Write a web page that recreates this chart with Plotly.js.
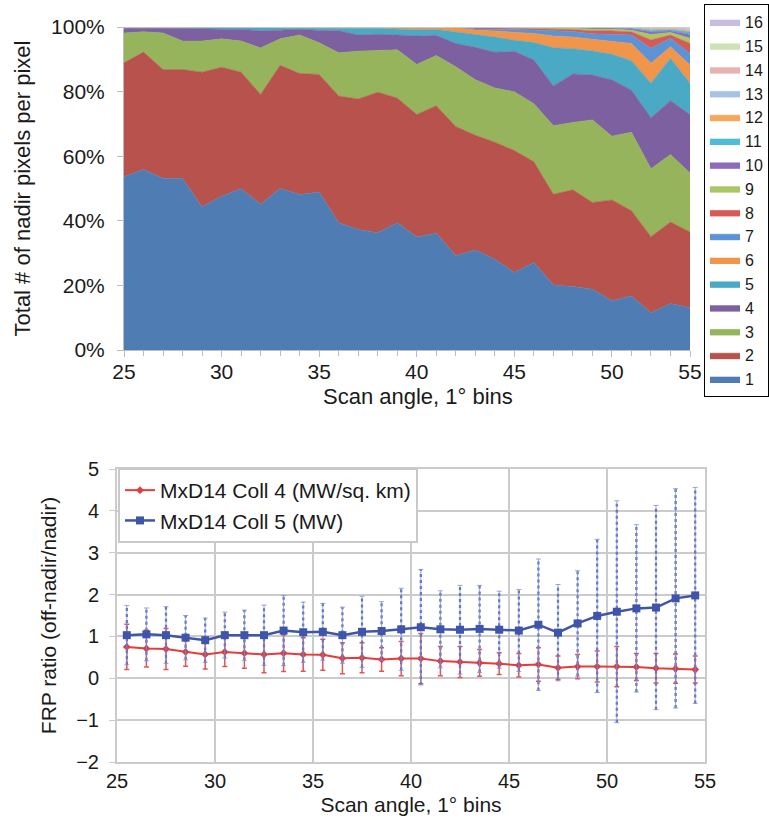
<!DOCTYPE html>
<html><head><meta charset="utf-8">
<script src="https://cdn.plot.ly/plotly-3.0.1.min.js"></script>
<style>html,body{margin:0;padding:0;background:#fff}#chart{width:769px;height:822px}</style>
</head><body><div id="chart"></div>
<script>
// ---- Top chart: share of nadir pixels per pixel, by scan angle bin ----
const scanAngleTop = [25,26,27,28,29,30,31,32,33,34,35,36,37,38,39,40,41,42,43,44,45,46,47,48,49,50,51,52,53,54];
const pct1  = [53.6,55.9,53.1,53.1,44.3,47.6,49.9,45.1,50.0,48.1,48.9,39.4,37.3,36.3,39.4,35.0,36.0,29.1,30.9,28.0,23.9,27.0,20.1,19.6,18.8,15.2,16.7,11.5,14.4,13.1];
const pct2  = [35.3,36.3,33.7,33.7,41.7,39.9,36.1,34.0,38.1,37.5,36.4,39.2,40.4,43.5,38.6,37.9,39.3,39.7,35.5,36.1,37.6,31.1,28.0,29.9,26.8,31.1,26.3,23.6,25.2,23.4];
const pct3  = [9.2,6.3,11.3,8.8,9.6,8.8,9.6,14.4,8.2,11.9,9.8,13.4,14.8,13.0,14.9,15.5,15.5,18.4,17.2,16.7,18.1,17.9,21.2,20.8,25.5,19.7,24.2,21.0,20.9,18.3];
const pct4  = [1.5,1.2,1.5,3.9,3.7,3.0,3.6,5.3,2.7,1.8,3.8,6.8,5.0,4.9,4.6,8.8,6.2,7.2,10.0,11.0,12.5,13.5,12.3,15.0,13.9,17.4,13.0,15.8,16.7,18.1];
const pct5  = [0.2,0.1,0.2,0.3,0.5,0.5,0.6,0.9,0.8,0.5,0.8,1.0,2.1,1.8,1.7,1.9,1.8,3.6,3.9,4.7,3.4,5.4,11.8,7.8,7.4,7.9,9.1,10.7,13.1,9.7];
const pct6  = [0.1,0.1,0.1,0.1,0.1,0.1,0.1,0.2,0.1,0.1,0.2,0.1,0.3,0.4,0.7,0.8,0.7,1.4,1.5,1.8,2.5,2.8,3.6,3.6,3.6,3.9,5.3,6.2,3.6,5.6];
const pct7  = [0.05,0.05,0.05,0.05,0.05,0.05,0.05,0.05,0.05,0.05,0.05,0.05,0.05,0.05,0.05,0.05,0.05,0.05,0.3,0.5,0.8,1.1,1.7,1.7,1.7,2.3,2.6,4.6,2.6,3.6];
const pct8  = [0.02,0.02,0.02,0.02,0.02,0.02,0.02,0.02,0.02,0.02,0.02,0.02,0.02,0.02,0.02,0.02,0.02,0.02,0.6,0.5,0.4,0.5,0.5,0.6,0.9,1.0,1.0,2.6,1.0,3.1];
const pct9  = [0,0,0,0,0,0,0,0,0,0,0,0,0,0,0,0,0,0,0,0.3,0.4,0.3,0.4,0.5,0.6,0.6,0.5,1.7,0.8,1.6];
const pct10 = [0,0,0,0,0,0,0,0,0,0,0,0,0,0,0,0,0,0,0,0,0,0.1,0.2,0.2,0.3,0.3,0.4,0.8,0.5,1.2];
const pct11 = [0,0,0,0,0,0,0,0,0,0,0,0,0,0,0,0,0,0,0,0,0,0,0,0.1,0.2,0.2,0.3,0.5,0.4,0.8];
const pct12 = [0,0,0,0,0,0,0,0,0,0,0,0,0,0,0,0,0,0,0,0,0,0,0,0,0.1,0.1,0.2,0.3,0.3,0.4];
const pct13 = [0,0,0,0,0,0,0,0,0,0,0,0,0,0,0,0,0,0,0,0,0,0,0,0,0,0,0.1,0.3,0.2,0.3];
const pct14 = [0,0,0,0,0,0,0,0,0,0,0,0,0,0,0,0,0,0,0,0,0,0,0,0,0,0,0,0.2,0.2,0.3];
const pct15 = [0,0,0,0,0,0,0,0,0,0,0,0,0,0,0,0,0,0,0,0,0,0,0,0,0,0,0,0.1,0.1,0.3];
const pct16 = [0,0,0,0,0,0,0,0,0,0,0,0,0,0,0,0,0,0,0,0,0,0,0,0,0,0,0,0.1,0.0,0.2];
const seriesNames = ['1','2','3','4','5','6','7','8','9','10','11','12','13','14','15','16'];
const topTickVals = [25,30,35,40,45,50,54];
const topTickText = ['25','30','35','40','45','50','55'];
const xTitle = 'Scan angle, 1° bins';

// ---- Bottom chart: FRP ratio ----
const scanAngleBins = [25.5,26.5,27.5,28.5,29.5,30.5,31.5,32.5,33.5,34.5,35.5,36.5,37.5,38.5,39.5,40.5,41.5,42.5,43.5,44.5,45.5,46.5,47.5,48.5,49.5,50.5,51.5,52.5,53.5,54.5];
const coll4Ratio = [0.75,0.71,0.70,0.63,0.57,0.63,0.60,0.57,0.60,0.57,0.56,0.48,0.49,0.45,0.47,0.47,0.41,0.39,0.37,0.35,0.31,0.33,0.25,0.28,0.28,0.28,0.27,0.24,0.23,0.21];
const coll4Err   = [0.54,0.44,0.49,0.34,0.35,0.35,0.36,0.44,0.44,0.40,0.37,0.37,0.36,0.28,0.41,0.60,0.35,0.37,0.32,0.26,0.28,0.40,0.28,0.29,0.37,0.48,0.32,0.35,0.35,0.32];
const coll5Ratio = [1.03,1.05,1.03,0.97,0.91,1.03,1.03,1.03,1.14,1.10,1.11,1.03,1.11,1.13,1.17,1.22,1.17,1.16,1.18,1.16,1.14,1.28,1.09,1.31,1.49,1.59,1.67,1.69,1.91,1.98];
const coll5Err   = [0.71,0.63,0.68,0.53,0.53,0.55,0.60,0.72,0.84,0.72,0.68,0.67,0.85,0.70,0.98,1.38,0.92,1.06,1.04,0.92,0.98,1.57,1.15,1.26,1.83,2.65,2.00,2.44,2.62,2.58];

const colors = ['#4f7db3','#b8524d','#96b45b','#7d60a0','#4aa9c4','#f0954a','#5b93d6','#d65a55',
                '#a8c865','#8c6cbb','#4fbcd8','#f8a65c','#a8c2e6','#e6b3b1','#cde2b5','#c6bde0'];
const pctSeries = [pct1,pct2,pct3,pct4,pct5,pct6,pct7,pct8,pct9,pct10,pct11,pct12,pct13,pct14,pct15,pct16];

const traces = [];
pctSeries.forEach((vals, k) => {
  const t = {
    x: scanAngleTop, y: vals, type: 'scatter', mode: 'lines',
    stackgroup: 'one', name: seriesNames[k],
    line: {color: colors[k], width: 0.6},
    fillcolor: colors[k], xaxis: 'x', yaxis: 'y', legend: 'legend',
    hoverinfo: 'skip'
  };
  if (k === 0) t.groupnorm = 'percent';
  traces.push(t);
});

const red = '#e63b3b', blue = '#3f55a9';
traces.push({
  x: scanAngleBins, y: coll4Ratio, type: 'scatter', mode: 'lines+markers',
  name: 'MxD14 Coll 4 (MW/sq. km)', xaxis: 'x2', yaxis: 'y2', legend: 'legend2',
  line: {color: red, width: 2}, marker: {color: red, size: 6, symbol: 'diamond'},
  error_y: {type: 'data', array: coll4Err, visible: true, color: '#e25555', thickness: 1.5, width: 2.5}
});
// dotted error bars for Coll 5, built from the data
const ebx = [], eby = [];
scanAngleBins.forEach((x, i) => {
  ebx.push(x, x, null);
  eby.push(coll5Ratio[i] - coll5Err[i], coll5Ratio[i] + coll5Err[i], null);
});
traces.push({
  x: ebx, y: eby, type: 'scatter', mode: 'lines', xaxis: 'x2', yaxis: 'y2',
  showlegend: false, hoverinfo: 'skip',
  line: {color: '#5568bb', width: 2.2, dash: 'dot'}
});
traces.push({
  x: scanAngleBins, y: coll5Ratio, type: 'scatter', mode: 'lines+markers',
  name: 'MxD14 Coll 5 (MW)', xaxis: 'x2', yaxis: 'y2', legend: 'legend2',
  line: {color: blue, width: 2.5}, marker: {color: blue, size: 8, symbol: 'square'},
  error_y: {type: 'data', array: coll5Err, visible: true, color: '#7f8fcf', thickness: 0.8, width: 2.5}
});

const grid2 = '#cbcbcb', axisTop = '#bdbdbd';
const layout = {
  width: 769, height: 822,
  margin: {l: 0, r: 0, t: 0, b: 0},
  paper_bgcolor: '#fff', plot_bgcolor: '#fff',
  font: {family: 'Liberation Sans, Arial, sans-serif', size: 20, color: '#1a1a1a'},
  showlegend: true,
  xaxis: {
    domain: [124/769, 690/769], anchor: 'y', range: [25, 54],
    tickmode: 'array', tickvals: topTickVals, ticktext: topTickText,
    ticks: 'outside', ticklen: 6, tickcolor: axisTop,
    minor: {dtick: 1, tick0: 25, ticks: 'outside', ticklen: 5, tickcolor: axisTop},
    showline: true, linecolor: axisTop, showgrid: false, zeroline: false,
    tickfont: {size: 21}, ticklabelstandoff: -3
  },
  yaxis: {
    domain: [(822-350)/822, (822-27)/822], anchor: 'x', range: [0, 100],
    dtick: 20, ticksuffix: '%', ticks: 'outside', ticklen: 6, tickcolor: axisTop,
    showline: true, linecolor: axisTop, showgrid: true, gridcolor: '#e3e3e3', zeroline: false,
    tickfont: {size: 21}, ticklabelstandoff: 8,
    title: {text: 'Total # of nadir pixels per pixel', font: {size: 22}, standoff: 14}
  },
  xaxis2: {
    domain: [117/769, 705/769], anchor: 'y2', range: [25, 55], dtick: 5,
    showgrid: true, gridcolor: grid2, gridwidth: 2, showline: true, mirror: true,
    linecolor: grid2, linewidth: 2, zeroline: false, ticks: '',
    tickfont: {size: 20},
    title: {text: xTitle, font: {size: 21}, standoff: 6}
  },
  yaxis2: {
    domain: [(822-762)/822, (822-469)/822], anchor: 'x2', range: [-2, 5], dtick: 1,
    showgrid: true, gridcolor: grid2, gridwidth: 2, showline: true, mirror: true,
    linecolor: grid2, linewidth: 2, zeroline: false,
    ticks: 'outside', ticklen: 6, tickcolor: grid2,
    tickfont: {size: 20}, ticklabelstandoff: 6,
    title: {text: 'FRP ratio (off-nadir/nadir)', font: {size: 21}, standoff: 14}
  },
  annotations: [{
    text: xTitle, xref: 'paper', yref: 'paper',
    x: 418/769, y: (822-396)/822, xanchor: 'center', yanchor: 'middle',
    showarrow: false, font: {size: 22}
  }],
  legend: {
    x: 1, xanchor: 'right', y: 0.995, yanchor: 'top', traceorder: 'reversed',
    bordercolor: '#000', borderwidth: 1, bgcolor: '#fff', font: {size: 16}
  },
  legend2: {
    x: 118/769, xanchor: 'left', y: (822-468)/822, yanchor: 'top',
    bordercolor: '#c9c9c9', borderwidth: 2, bgcolor: '#fff', font: {size: 21}
  }
};

Plotly.newPlot('chart', traces, layout, {displayModeBar: false, staticPlot: true});
</script></body></html>
